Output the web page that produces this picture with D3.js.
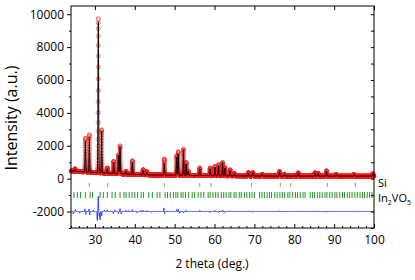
<!DOCTYPE html>
<html>
<head>
<meta charset="utf-8">
<script src="https://cdn.jsdelivr.net/npm/d3@7"></script>
<style>
  body { margin: 0; background: #fff; }
  svg { display: block; }
  text { font-family: 'Open Sans', sans-serif; fill: #000; }
</style>
</head>
<body>
<svg id="chart" width="415" height="280"></svg>
<script>
// background level read along the baseline
const bgTheta = [24, 27, 30, 33, 36, 40, 45, 50, 60, 70, 80, 100];
const bgLevel = [470, 420, 370, 330, 300, 255, 225, 205, 185, 165, 155, 150];

const peakTheta = [25.0, 27.6, 28.6, 30.85, 31.7, 33.1, 34.7, 35.9, 36.3, 37.8, 39.4, 42.1, 43.0,
  47.4, 50.5, 50.9, 52.2, 52.9, 53.4, 56.3, 58.9, 60.1, 61.0, 62.0, 62.6, 63.9, 65.0,
  68.5, 69.6, 72.0, 76.3, 77.5, 81.0, 85.2, 86.0, 88.1, 90.5, 95.0, 99.7];
const peakCalc = [120, 1890, 2110, 9180, 2560, 280, 700, 1100, 1660, 165, 745, 270, 155,
  740, 1100, 1300, 1600, 700, 220, 410, 415, 520, 620, 810, 470, 320, 120,
  185, 190, 90, 265, 100, 180, 200, 160, 300, 100, 100, 140];
const peakObs = [150, 2060, 2280, 9410, 2630, 330, 745, 1150, 1710, 175, 835, 315, 195,
  980, 1190, 1450, 1600, 800, 260, 460, 465, 570, 670, 810, 520, 365, 150,
  215, 215, 110, 285, 120, 205, 220, 180, 330, 120, 120, 160];

// difference curve features (obs - calc)
const diffTheta = [24.6, 25.1, 26.2, 27.5, 27.7, 28.5, 28.7, 29.6, 30.6, 30.85, 31.1, 31.3, 31.7,
  32.4, 33.1, 34.6, 35.0, 35.9, 36.3, 36.6, 37.8, 38.5, 39.4, 40.6, 41.5, 42.1, 43.0, 44.2,
  47.3, 47.5, 50.5, 50.9, 51.3, 52.2, 52.9, 56.3, 58.9, 60.1, 61.0, 62.0, 62.6, 63.9,
  68.5, 69.6, 76.3, 81.0, 85.2, 88.1, 95.0];
const diffValue = [-150, 120, -100, 160, -180, 150, -200, 90, -540, 930, -300, -500, -250,
  80, 110, -120, 100, -130, 180, -150, 80, 60, 120, -80, 70, 90, 60, -50,
  220, -120, 120, 160, -100, -90, 70, 80, -60, 70, -70, 100, -60, 50,
  40, -40, 50, 40, 40, -40, 30];

// Bragg positions
const siTicks = [28.6, 33.2, 47.4, 56.3, 59.1, 69.3, 76.5, 79.1, 88.3, 95.3];
const phaseTicks = [24.75, 25.6, 26.4, 27.6, 28.8, 29.4, 31.3, 32.1, 33.1, 34.3, 35.1, 36.3, 37.3,
  37.8, 38.6, 39.3, 40.0, 40.7, 41.6, 42.2, 43.5, 44.4, 45.6, 46.3, 47.6, 48.2, 48.9, 49.7,
  50.3, 50.8, 51.6, 52.1, 52.7, 53.5, 54.4, 55.0, 55.9, 56.6, 57.3, 58.4, 58.9, 59.6,
  60.3, 60.9, 61.7, 62.3, 62.9, 63.6, 64.1, 64.9, 65.4, 66.2, 66.7, 67.5, 68.1, 68.8,
  69.4, 70.0, 71.3, 71.9, 72.5, 73.2, 73.8, 74.3, 75.1, 75.7, 76.4, 77.0, 77.6, 78.4,
  78.9, 79.6, 80.3, 80.8, 81.5, 82.2, 82.7, 84.0, 84.6, 85.1, 85.8, 86.4, 87.0, 87.7,
  88.2, 88.9, 89.5, 90.2, 90.7, 91.4, 92.1, 92.6, 93.3, 93.9, 94.5, 95.2, 95.8, 96.5,
  97.1, 97.6, 98.3, 98.9, 99.5];

const xTicks = [30, 40, 50, 60, 70, 80, 90, 100];
const xMinor = [24, 26, 28, 32, 34, 36, 38, 42, 44, 46, 48, 52, 54, 56, 58, 62, 64, 66, 68,
  72, 74, 76, 78, 82, 84, 86, 88, 92, 94, 96, 98];
const yTicks = [-2000, 0, 2000, 4000, 6000, 8000, 10000];
const yMinor = [-3000, -1000, 1000, 3000, 5000, 7000, 9000];

const diffOffset = -2000;
const step = 0.01;
const sigma = 0.08;
const diffSigma = 0.05;

const svg = d3.select('#chart');
const margin = { top: 6, right: 41, bottom: 52, left: 71 };
const width = +svg.attr('width') - margin.left - margin.right;
const height = +svg.attr('height') - margin.top - margin.bottom;

const x = d3.scaleLinear().domain([24, 100]).range([margin.left, margin.left + width]);
const y = d3.scaleLinear().domain([-3000, 10500]).range([margin.top + height, margin.top]);
const bg = d3.scaleLinear().domain(bgTheta).range(bgLevel);

const grid = d3.range(24, 100 + step / 2, step);
function profile(heights, s, centers) {
  return t => d3.sum(centers, (c, i) => {
    const d = (t - c) / s;
    return d * d > 30 ? 0 : heights[i] * Math.exp(-0.5 * d * d);
  });
}
const calcAt = profile(peakCalc, sigma, peakTheta);
const obsAt = profile(peakObs, sigma, peakTheta);
const diffAt = profile(diffValue, diffSigma, diffTheta);

const obs = grid.map(t => [t, bg(t) + obsAt(t)]);
const calc = grid.map(t => [t, bg(t) + calcAt(t)]);
const diff = grid.map(t => [t, diffOffset + diffAt(t)]);

const line = d3.line().x(d => x(d[0])).y(d => y(d[1]));
const plain = d => String(d);

const plot = svg.append('g').attr('id', 'plot');

plot.append('g')
  .attr('fill', 'none')
  .attr('stroke', '#ee2020')
  .attr('stroke-width', 0.6)
  .attr('stroke-opacity', 0.55)
  .selectAll('circle')
  .data(obs)
  .join('circle')
  .attr('cx', d => x(d[0]))
  .attr('cy', d => y(d[1]))
  .attr('r', 1.9);

plot.append('path')
  .datum(calc)
  .attr('fill', 'none')
  .attr('stroke', '#000')
  .attr('stroke-width', 1)
  .attr('d', line);

plot.append('path')
  .datum(diff)
  .attr('fill', 'none')
  .attr('stroke', '#1f2fe8')
  .attr('stroke-width', 1)
  .attr('d', line);

plot.append('g')
  .attr('fill', '#5cb85c')
  .selectAll('rect')
  .data(siTicks)
  .join('rect')
  .attr('x', d => x(d) - 0.5)
  .attr('y', 183)
  .attr('width', 1)
  .attr('height', 4);

plot.append('g')
  .attr('fill', '#2a952a')
  .selectAll('rect')
  .data(phaseTicks)
  .join('rect')
  .attr('x', d => x(d) - 0.5)
  .attr('y', 192)
  .attr('width', 1)
  .attr('height', 6);

// axes
const xBottom = margin.top + height;
svg.append('g')
  .attr('transform', `translate(0,${xBottom})`)
  .call(d3.axisBottom(x).tickValues(xTicks).tickSize(-4).tickPadding(7).tickFormat(plain))
  .call(g => g.select('.domain').remove())
  .call(g => g.selectAll('text').style('font-size', '12px').style('font-family', '\'Open Sans\', sans-serif'));
svg.append('g')
  .attr('transform', `translate(0,${xBottom})`)
  .call(d3.axisBottom(x).tickValues(xMinor).tickSize(-2).tickFormat(''))
  .call(g => g.select('.domain').remove());
svg.append('g')
  .attr('transform', `translate(0,${margin.top})`)
  .call(d3.axisTop(x).tickValues(xTicks).tickSize(-4).tickFormat(''))
  .call(g => g.select('.domain').remove());

svg.append('g')
  .attr('transform', `translate(${margin.left},0)`)
  .call(d3.axisLeft(y).tickValues(yTicks).tickSize(4).tickPadding(3).tickFormat(plain))
  .call(g => g.select('.domain').remove())
  .call(g => g.selectAll('text').style('font-size', '12px').style('font-family', '\'Open Sans\', sans-serif'));
svg.append('g')
  .attr('transform', `translate(${margin.left},0)`)
  .call(d3.axisLeft(y).tickValues(yMinor).tickSize(2).tickFormat(''))
  .call(g => g.select('.domain').remove());
svg.append('g')
  .attr('transform', `translate(${margin.left + width},0)`)
  .call(d3.axisRight(y).tickValues(yTicks.concat(yMinor)).tickSize(-3).tickFormat(''))
  .call(g => g.select('.domain').remove());

svg.append('rect')
  .attr('x', margin.left)
  .attr('y', margin.top)
  .attr('width', width)
  .attr('height', height)
  .attr('fill', 'none')
  .attr('stroke', '#000')
  .attr('stroke-width', 1);

// titles
svg.append('text')
  .attr('transform', `translate(17,${margin.top + 112}) rotate(-90)`)
  .attr('text-anchor', 'middle')
  .style('font-size', '16px')
  .text('Intensity (a.u.)');

svg.append('text')
  .attr('x', 212)
  .attr('y', 268)
  .attr('text-anchor', 'middle')
  .style('font-size', '12px')
  .text('2 theta (deg.)');

svg.append('text')
  .attr('x', 378)
  .attr('y', 187)
  .style('font-size', '11px')
  .text('Si');

const phaseLabel = svg.append('text')
  .attr('x', 378)
  .attr('y', 202)
  .style('font-size', '11px');
phaseLabel.append('tspan').text('In');
phaseLabel.append('tspan').attr('dy', 3).style('font-size', '7px').text('2');
phaseLabel.append('tspan').attr('dy', -3).text('VO');
phaseLabel.append('tspan').attr('dy', 3).style('font-size', '7px').text('5');
</script>
</body>
</html>
